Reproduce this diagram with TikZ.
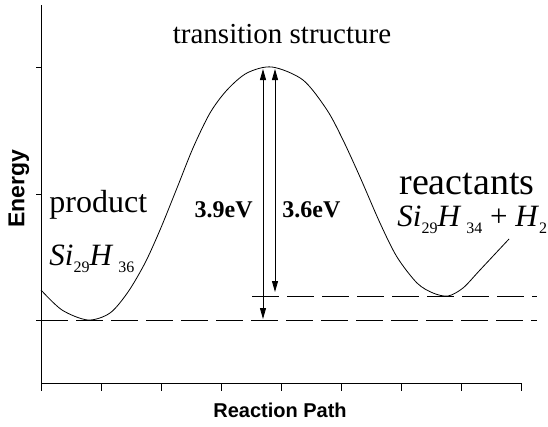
\documentclass[tikz,border=0pt]{standalone}
\usepackage{amsmath}
\usepackage{fontspec}
\setmainfont{Liberation Serif}
\newfontfamily\arialfont{Liberation Sans}
\usetikzlibrary{arrows.meta,calc}

\newcommand\lowsub[1]{\raisebox{-7pt}{\fontsize{16}{16}\selectfont #1}}

\begin{document}
\begin{tikzpicture}[x=1pt,y=-1pt,line width=0.8pt,
  lbl/.style={inner sep=0pt,font=\fontsize{29}{30}\selectfont},
  biglbl/.style={inner sep=0pt,font=\fontsize{38}{40}\selectfont},
  formula/.style={inner sep=0pt,font=\fontsize{31}{32}\selectfont},
  ev/.style={inner sep=0pt,font=\fontsize{24}{26}\selectfont\bfseries},
  axlbl/.style={inner sep=0pt,font=\fontsize{20}{22}\selectfont\arialfont\bfseries},
  level/.style={dash pattern=on 27pt off 8pt},
  gap/.style={{Triangle[length=11pt,width=6pt]}-{Triangle[length=11pt,width=6pt]}}]

\useasboundingbox (0,0) rectangle (548,426);

% axes
\draw (41,5) coordinate (ytop) -- (41,383) coordinate (origin) -- (521,383) coordinate (xend);
\foreach \y in {67,194,320}
    \draw (36,\y) -- (41,\y);
\foreach \i in {0,...,8}
    \draw ({41+60*\i},383) -- ({41+60*\i},391);

% energy profile
\draw plot[smooth,tension=0.5] coordinates {(41,290) (62,310) (88,320) (110,313) (128,292) (145,263) (160,230) (177,188) (193,148) (210,113) (227,90) (247,73) (272,67) (303,80) (327,110) (343,140) (360,177) (380,223) (397,257) (417,283) (433,293) (448,296) (463,288) (480,270) (509,239)};

% levels
\coordinate (prod) at (41,320);
\coordinate (prodend) at (537,320);
\coordinate (reac) at (252,296);
\coordinate (reacend) at (537,296);
\draw[level] (prod) -- (prodend);
\draw[level] (reac) -- (reacend);

% barriers
\coordinate (bigtop) at (263,69);
\coordinate (bigbot) at (263,319);
\coordinate (smalltop) at (275,69);
\coordinate (smallbot) at (275,292);
\draw[gap] (bigtop) -- (bigbot);
\draw[gap] (smalltop) -- (smallbot);

% labels
\node[lbl,anchor=base] (ts) at (282,43) {transition structure};
\node[lbl,font=\fontsize{32}{34}\selectfont,anchor=base west] (product) at (49,212) {product};
\node[biglbl,anchor=base west] (reactants) at (399,194) {reactants};
\node[formula,anchor=base west] (prodformula) at (49,265) {\textit{Si}\lowsub{29}\textit{H}\,\lowsub{36}};
\node[formula,anchor=base west] (reacformula) at (397,226) {\textit{Si}\lowsub{29}\textit{H}\,\lowsub{34} + \textit{H}\lowsub{2}};
\node[ev,anchor=base east] (big) at (253,217) {3.9eV};
\node[ev,anchor=base west] (small) at (282,217) {3.6eV};
\node[axlbl,font=\fontsize{23}{24}\selectfont\arialfont\bfseries,rotate=90] (energy) at (19,189) {Energy};
\node[axlbl,anchor=base] (path) at (280,417) {Reaction Path};

\end{tikzpicture}
\end{document}
